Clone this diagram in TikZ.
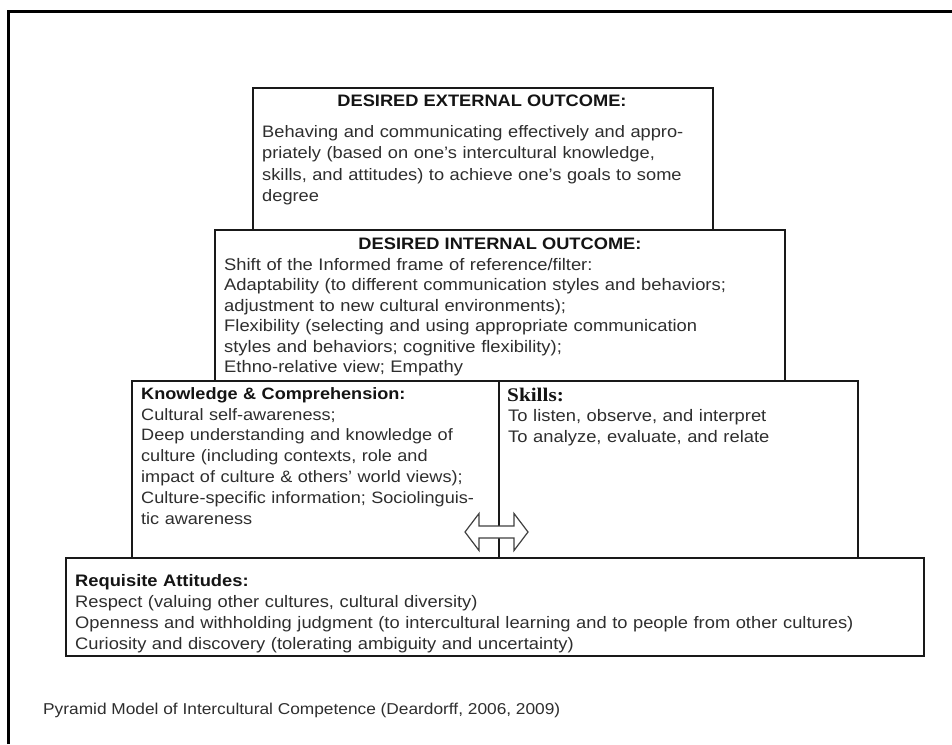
\documentclass[tikz,border=0pt]{standalone}
\usepackage{fontspec}
\usetikzlibrary{calc}
\setmainfont{Liberation Sans}[FakeStretch=1.1]
\newfontfamily\skillfont{Liberation Serif}[FakeStretch=1.1]
\begin{document}
\begin{tikzpicture}[x=1pt,y=-1pt,
  boxnode/.style={draw=black!90, line width=1.8pt, anchor=north west, inner sep=0pt, fill=none},
  txt/.style={anchor=north west, inner sep=0pt, align=left, text=black!82, text width=#1},
  txt/.default=700pt,
  ttl/.style={anchor=base, inner sep=0pt, text=black!92, font=\bfseries\fontsize{16.6}{20}\selectfont}
]
\useasboundingbox (0,0) rectangle (952,744);
\fill[white] (0,0) rectangle (952,744);
% outer frame (top and left only)
\draw[line width=3pt, black] (8.5,744) -- (8.5,11.5) -- (952,11.5);

% boxes
\node[boxnode, minimum width=858pt, minimum height=98pt] (att) at (65,557) {};
\node[boxnode, minimum width=367pt, minimum height=177pt] (know) at (131,380) {};
\node[boxnode, minimum width=359pt, minimum height=177pt] (skill) at (498,380) {};
\node[boxnode, minimum width=570pt, minimum height=151pt] (int) at (214,229) {};
\node[boxnode, minimum width=460pt, minimum height=142pt] (ext) at (252,87) {};

% external outcome
\node[ttl] (extT) at (482,106.5) {DESIRED EXTERNAL OUTCOME:};
\node[txt=445pt, font=\fontsize{16.6}{21.5}\selectfont] (extB) at (262,{137-0.7*21.5})
 {\strut Behaving and communicating effectively and appro-\\
  priately (based on one’s intercultural knowledge,\\
  skills, and attitudes) to achieve one’s goals to some\\
  degree};

% internal outcome
\node[ttl] (intT) at (500,249) {DESIRED INTERNAL OUTCOME:};
\node[txt=555pt, font=\fontsize{16.7}{20.5}\selectfont] (intB) at (224,{270-0.7*20.5})
 {\strut Shift of the Informed frame of reference/filter:\\
  Adaptability (to different communication styles and behaviors;\\
  adjustment to new cultural environments);\\
  Flexibility (selecting and using appropriate communication\\
  styles and behaviors; cognitive flexibility);\\
  Ethno-relative view; Empathy};

% knowledge
\node[txt=355pt, font=\fontsize{16.45}{20.8}\selectfont] (knowB) at (141,{399-0.7*20.8})
 {\strut\textbf{\color{black!92}Knowledge \& Comprehension:}\\
  Cultural self-awareness;\\
  Deep understanding and knowledge of\\
  culture (including contexts, role and\\
  impact of culture \& others’ world views);\\
  Culture-specific information; Sociolinguis-\\
  tic awareness};

% skills
\node[anchor=base west, inner sep=0pt, text=black!92, font=\skillfont\bfseries\fontsize{19.3}{21}\selectfont] (skT) at (507,401) {Skills:};
\node[txt=340pt, font=\fontsize{16.7}{21}\selectfont] (skB) at (508,{421-0.7*21})
 {\strut To listen, observe, and interpret\\
  To analyze, evaluate, and relate};

% attitudes
\node[txt=840pt, font=\fontsize{16.65}{21}\selectfont] (attB) at (75,{586-0.7*21})
 {\strut\textbf{\color{black!92}Requisite Attitudes:}\\
  Respect (valuing other cultures, cultural diversity)\\
  Openness and withholding judgment (to intercultural learning and to people from other cultures)\\
  Curiosity and discovery (tolerating ambiguity and uncertainty)};

% caption
\node[anchor=base west, inner sep=0pt, text=black!82, font=\fontsize{15.73}{18}\selectfont] (cap) at (43,714)
 {Pyramid Model of Intercultural Competence (Deardorff, 2006, 2009)};

% double block arrow over the divider
\coordinate (ac) at (496.5,532);
\draw[line width=1.2pt, draw=black!75, fill=white]
  ($(ac)+(-31.5,0)$) -- ++(14,-18.5) -- ++(0,12.5) -- ++(35,0) -- ++(0,-12.5)
  -- ($(ac)+(31.5,0)$) -- ++(-14,18.5) -- ++(0,-12.5) -- ++(-35,0) -- ++(0,12.5) -- cycle;
\end{tikzpicture}
\end{document}
